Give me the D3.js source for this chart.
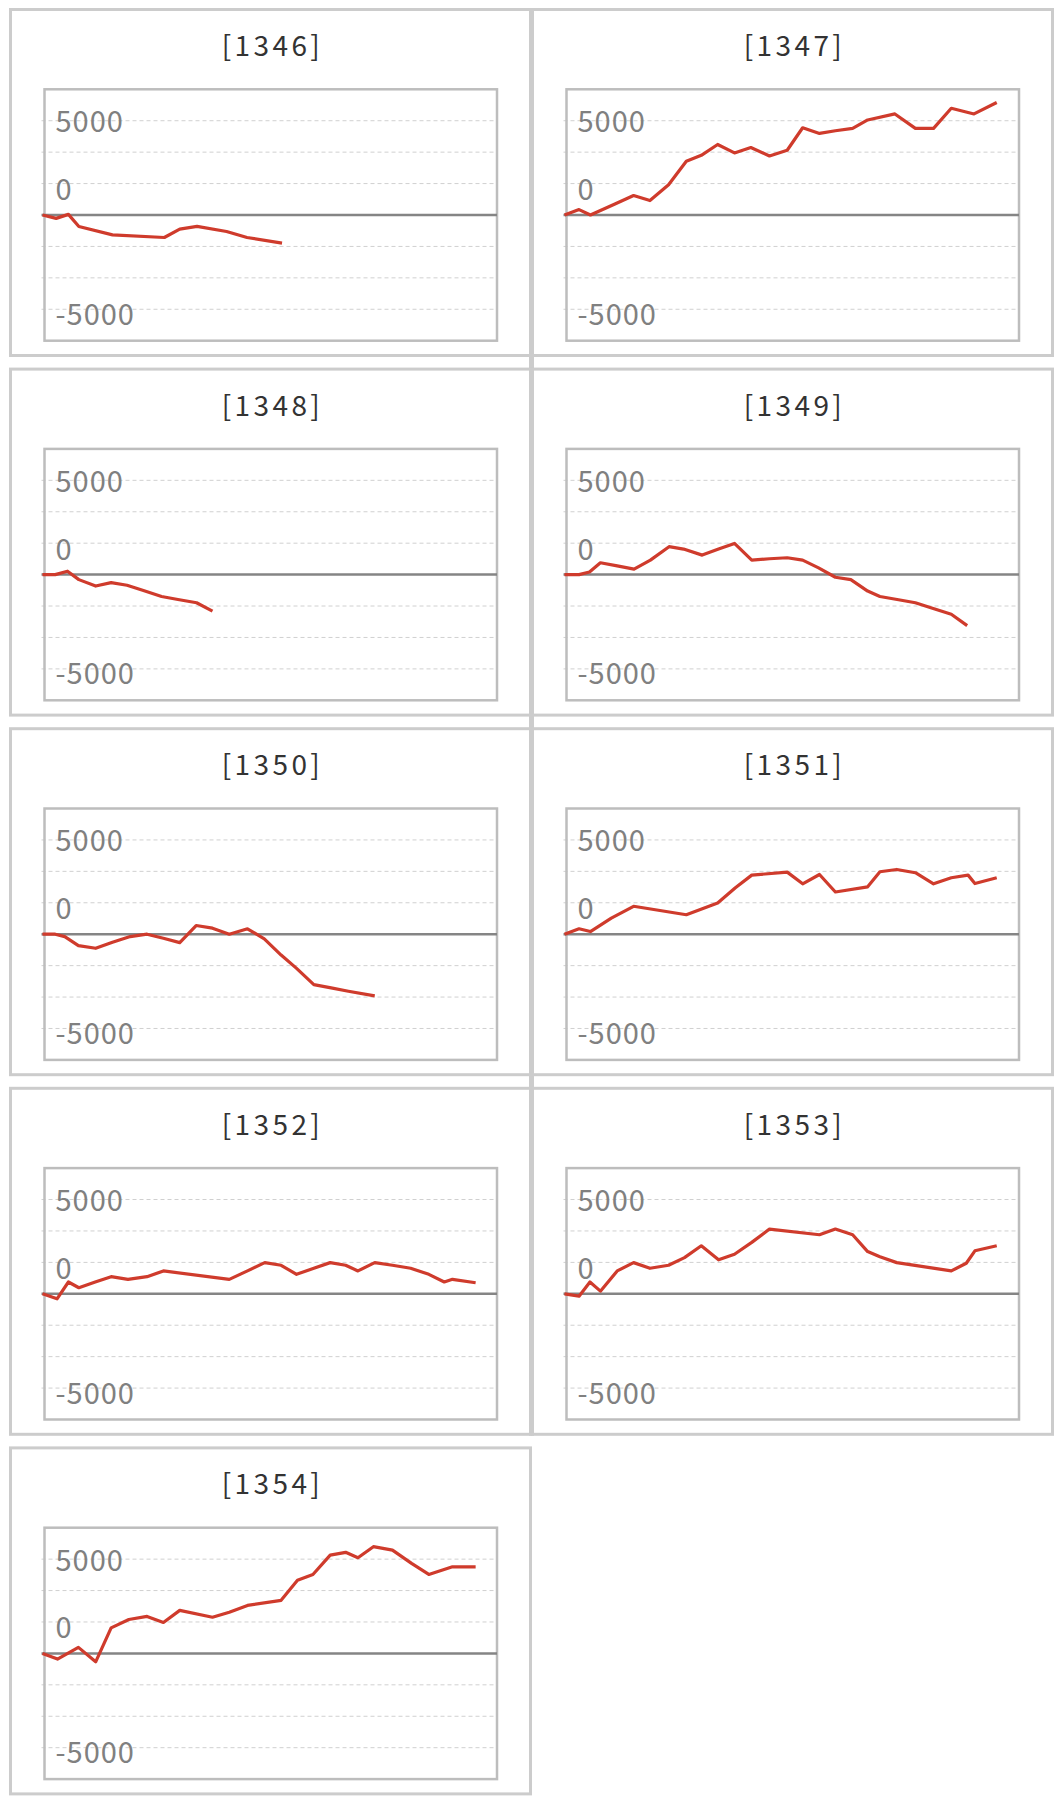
<!DOCTYPE html>
<html>
<head>
<meta charset="utf-8">
<script src="https://cdn.jsdelivr.net/npm/d3@7"></script>
<style>
  html, body { margin: 0; padding: 0; background: #fff; }
  svg { display: block; }
</style>
</head>
<body>
<svg id="chart" width="1060" height="1802"></svg>
<script>
// ---- data ----
const machines = ["1346", "1347", "1348", "1349", "1350", "1351", "1352", "1353", "1354"];

const x1346 = [0,300,570,800,1540,2680,3020,3400,4050,4500,5270];
const y1346 = [0,-270,50,-910,-1580,-1790,-1120,-910,-1310,-1790,-2240];

const x1347 = [0,320,570,1110,1520,1880,2290,2680,3010,3370,3740,4100,4510,4900,5240,5610,5960,6340,6670,7270,7720,8120,8510,9010,9510];
const y1347 = [0,430,0,880,1550,1150,2400,4270,4750,5610,4940,5370,4700,5150,6940,6490,6700,6890,7560,8040,6890,6890,8490,8040,8950];

const x1348 = [0,280,550,800,1170,1510,1860,2220,2620,2980,3390,3740];
const y1348 = [0,0,270,-400,-910,-640,-850,-1260,-1740,-1980,-2240,-2910];

const x1349 = [0,320,550,790,1160,1530,1890,2300,2620,3030,3390,3740,4120,4510,4900,5240,5590,5960,6300,6670,6940,7350,7720,8130,8510,8860];
const y1349 = [0,0,210,940,690,430,1150,2220,2030,1550,2030,2480,1150,1260,1340,1150,530,-210,-400,-1310,-1740,-2000,-2240,-2720,-3150,-4060];

const x1350 = [0,280,490,790,1170,1540,1930,2300,2660,3020,3380,3740,4110,4510,4880,5250,5590,5970,6350,6730,7310];
const y1350 = [0,0,-190,-910,-1120,-640,-190,0,-320,-670,690,480,0,430,-370,-1660,-2720,-4010,-4270,-4540,-4910];

const x1351 = [0,320,570,1030,1520,2680,3370,3760,4120,4900,5240,5610,5960,6670,6940,7310,7720,8120,8510,8880,9030,9510];
const y1351 = [0,430,210,1280,2220,1550,2480,3690,4700,4940,4010,4750,3360,3770,4970,5150,4890,4010,4490,4700,4030,4490];

const x1352 = [0,320,570,800,1160,1510,1880,2300,2660,4110,4510,4890,5250,5590,5970,6330,6670,6940,7310,7700,8100,8500,8840,9020,9530];
const y1352 = [0,-400,940,480,940,1360,1150,1360,1820,1150,1820,2480,2270,1550,2030,2480,2270,1820,2480,2270,2030,1550,940,1150,880];

const x1353 = [0,320,560,790,1160,1520,1880,2290,2640,3010,3390,3740,4120,4510,5610,5960,6340,6670,6940,7310,8510,8840,9030,9510];
const y1353 = [0,-190,940,210,1820,2480,2030,2270,2880,3820,2700,3150,4090,5150,4700,5150,4700,3360,2940,2480,1820,2430,3420,3820];

const x1354 = [0,330,790,1170,1510,1900,2300,2660,3020,3740,4110,4510,5250,5610,5950,6330,6670,6940,7280,7700,8120,8500,9020,9530];
const y1354 = [0,-450,480,-670,2030,2700,2940,2460,3420,2880,3280,3820,4220,5820,6280,7820,8040,7610,8490,8220,7160,6280,6890,6890];

const seriesX = [x1346, x1347, x1348, x1349, x1350, x1351, x1352, x1353, x1354];
const seriesY = [y1346, y1347, y1348, y1349, y1350, y1351, y1352, y1353, y1354];

const gridValues = [-7500, -5000, -2500, 2500, 5000, 7500];
const tickLabels = ["5000", "0", "-5000"];
const tickLabelAt = [7500, 2500, -7500];

const xDomain = [0, 10000];
const yDomain = [-10000, 10000];

// ---- layout ----
const svg = d3.select("#chart");
const panelW = 523, panelH = 349;
const colX = [9, 531];
const rowPitch = 359.6;
const top0 = 8;
const labelNudge = [1, 6, 5];
const nRowsFull = Math.floor(machines.length / 2);

// column divider running through the gaps of the full rows
svg.append("rect")
  .attr("x", colX[1] - 2).attr("y", top0)
  .attr("width", 5).attr("height", (nRowsFull - 1) * rowPitch + panelH)
  .attr("fill", "#cccccc");

machines.forEach((m, i) => {
  const col = i % 2, row = Math.floor(i / 2);
  const px = colX[col], py = top0 + row * rowPitch;
  const g = svg.append("g");

  // panel border
  g.append("rect")
    .attr("x", px + 1.5).attr("y", py + 1.5)
    .attr("width", panelW - 3).attr("height", panelH - 3)
    .attr("fill", "#fff").attr("stroke", "#cccccc").attr("stroke-width", 3);

  // title
  g.append("text")
    .attr("x", px + panelW / 2 + 2).attr("y", py + 48)
    .attr("text-anchor", "middle")
    .attr("font-family", "'Noto Sans CJK JP', 'Noto Sans', sans-serif")
    .attr("font-weight", 400)
    .attr("font-size", 28)
    .attr("letter-spacing", 3.4)
    .attr("fill", "#333")
    .text("[" + m + "]");

  const fL = px + 35.5, fR = px + 488;
  const fT = py + 81.3, fB = py + 332.7;

  const x = d3.scaleLinear().domain(xDomain).range([fL - 2, fR]);
  const y = d3.scaleLinear().domain(yDomain).range([fB, fT]);

  // gridlines
  g.selectAll("line.grid").data(gridValues).enter().append("line")
    .attr("x1", fL - 3).attr("x2", fR)
    .attr("y1", d => y(d)).attr("y2", d => y(d))
    .attr("stroke", "#d0d0d0").attr("stroke-width", 1)
    .attr("stroke-dasharray", "4,3");

  // frame
  g.append("rect")
    .attr("x", fL).attr("y", fT)
    .attr("width", fR - fL).attr("height", fB - fT)
    .attr("fill", "none").attr("stroke", "#bdbdbd").attr("stroke-width", 2.5);

  // y labels
  g.selectAll("text.tick").data(tickLabels).enter().append("text")
    .attr("x", fL + 11)
    .attr("y", (d, k) => y(tickLabelAt[k]) + labelNudge[k])
    .attr("dy", "0.36em")
    .attr("font-family", "'Noto Sans CJK JP', 'Noto Sans', sans-serif")
    .attr("font-size", 29)
    .attr("letter-spacing", 1)
    .attr("fill", "#808080")
    .text(d => d);

  // zero line
  g.append("line")
    .attr("x1", fL - 3).attr("x2", fR)
    .attr("y1", y(0)).attr("y2", y(0))
    .attr("stroke", "#858585").attr("stroke-width", 2.5);

  // data line
  const xs = seriesX[i], ys = seriesY[i];
  const line = d3.line().x(k => x(xs[k])).y(k => y(ys[k]));
  g.append("path")
    .attr("d", line(d3.range(xs.length)))
    .attr("fill", "none").attr("stroke", "#cf3b2c")
    .attr("stroke-width", 3.2).attr("stroke-linejoin", "round");
});
</script>
</body>
</html>
